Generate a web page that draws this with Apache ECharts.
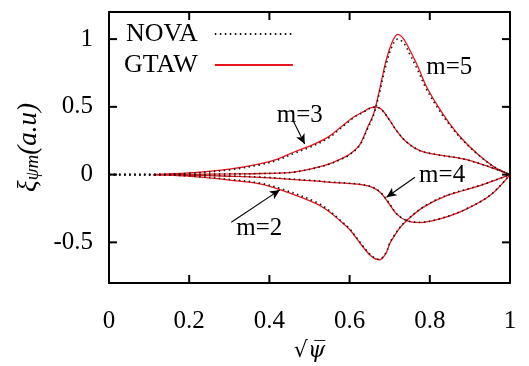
<!DOCTYPE html>
<html>
<head>
<meta charset="utf-8">
<script src="https://cdn.jsdelivr.net/npm/echarts@6/dist/echarts.min.js"></script>
<style>
  html, body { margin: 0; padding: 0; background: #fff; }
  #main { width: 529px; height: 366px; }
</style>
</head>
<body>
<div id="main"></div>
<script>
// sqrt(psi) positions and xi values
var xM5 = [0.11, 0.2, 0.3, 0.38, 0.46, 0.54, 0.58, 0.6, 0.625, 0.645, 0.66, 0.675, 0.69, 0.705, 0.72, 0.735, 0.75, 0.77, 0.79, 0.82, 0.85, 0.88, 0.92, 0.96, 1.0];
var gtawM5 = [0, 0.002, 0.005, 0.008, 0.018, 0.07, 0.118, 0.15, 0.22, 0.35, 0.45, 0.63, 0.83, 0.97, 1.035, 1.0, 0.92, 0.8, 0.66, 0.505, 0.374, 0.265, 0.15, 0.058, 0];
var novaXM5 = [0, 0.05, 0.11, 0.2, 0.3, 0.38, 0.46, 0.54, 0.58, 0.6, 0.625, 0.645, 0.66, 0.675, 0.69, 0.705, 0.72, 0.735, 0.75, 0.77, 0.79, 0.82, 0.85, 0.88, 0.92, 0.96, 1.0];
var novaM5 = [0, 0, 0, 0.002, 0.005, 0.008, 0.018, 0.068, 0.115, 0.147, 0.215, 0.34, 0.44, 0.61, 0.8, 0.94, 1.0, 0.97, 0.89, 0.77, 0.64, 0.49, 0.365, 0.26, 0.148, 0.057, 0];

var xM3 = [0.11, 0.2, 0.3, 0.376, 0.42, 0.46, 0.5, 0.545, 0.58, 0.61, 0.635, 0.65, 0.665, 0.68, 0.7, 0.717, 0.742, 0.775, 0.817, 0.883, 0.94, 1.0];
var gtawM3 = [0, 0.012, 0.04, 0.079, 0.115, 0.165, 0.21, 0.275, 0.355, 0.425, 0.465, 0.49, 0.5, 0.48, 0.40, 0.325, 0.24, 0.177, 0.148, 0.116, 0.066, 0];
var novaXM3 = [0, 0.05, 0.11, 0.2, 0.3, 0.376, 0.42, 0.46, 0.5, 0.545, 0.58, 0.61, 0.635, 0.65, 0.665, 0.68, 0.7, 0.717, 0.742, 0.775, 0.817, 0.883, 0.94, 1.0];
var novaM3 = [0, 0, 0, 0.01, 0.035, 0.072, 0.106, 0.155, 0.2, 0.265, 0.347, 0.42, 0.462, 0.488, 0.498, 0.478, 0.40, 0.325, 0.24, 0.177, 0.148, 0.116, 0.066, 0];

var xM4 = [0.11, 0.2, 0.3, 0.376, 0.5, 0.551, 0.6, 0.63, 0.655, 0.676, 0.696, 0.717, 0.742, 0.775, 0.825, 0.883, 0.95, 1.0];
var gtawM4 = [0, -0.005, -0.012, -0.02, -0.044, -0.057, -0.066, -0.075, -0.092, -0.13, -0.204, -0.29, -0.34, -0.354, -0.327, -0.266, -0.155, 0];
var novaXM4 = [0, 0.05, 0.11, 0.2, 0.3, 0.376, 0.5, 0.551, 0.6, 0.63, 0.655, 0.676, 0.696, 0.717, 0.742, 0.775, 0.825, 0.883, 0.95, 1.0];
var novaM4 = [0, 0, 0, -0.004, -0.01, -0.018, -0.042, -0.055, -0.064, -0.073, -0.09, -0.128, -0.2, -0.287, -0.338, -0.352, -0.325, -0.264, -0.153, 0];

var xM2 = [0.11, 0.2, 0.31, 0.376, 0.43, 0.518, 0.551, 0.576, 0.6, 0.634, 0.655, 0.674, 0.69, 0.7, 0.71, 0.726, 0.742, 0.784, 0.842, 0.925, 1.0];
var gtawM2 = [0, -0.012, -0.044, -0.069, -0.115, -0.216, -0.278, -0.34, -0.405, -0.536, -0.605, -0.63, -0.585, -0.51, -0.46, -0.39, -0.34, -0.24, -0.155, -0.081, 0];
var novaXM2 = [0, 0.05, 0.11, 0.2, 0.31, 0.376, 0.43, 0.518, 0.551, 0.576, 0.6, 0.634, 0.655, 0.674, 0.69, 0.7, 0.71, 0.726, 0.742, 0.784, 0.842, 0.925, 1.0];
var novaM2 = [0, 0, 0, -0.01, -0.038, -0.062, -0.105, -0.205, -0.27, -0.335, -0.4, -0.53, -0.6, -0.625, -0.58, -0.505, -0.455, -0.388, -0.338, -0.238, -0.153, -0.08, 0];

var xTicks = [0.2, 0.4, 0.6, 0.8];
var yTicks = [-0.5, 0, 0.5, 1];

// mode labels and their arrows
var modeNames = ['m=5', 'm=3', 'm=4', 'm=2'];
var modeLabelPos = [[0.85, 0.79], [0.477, 0.435], [0.832, -0.007], [0.376, -0.40]];
var arrowFrom = [null, [0.459, 0.40], [0.763, -0.02], [0.305, -0.352]];
var arrowTo = [null, [0.488, 0.225], [0.692, -0.167], [0.426, -0.113]];

var X_MIN = 0, X_MAX = 1, Y_MIN = -0.8, Y_MAX = 1.2;

function zip(xs, ys) {
    var out = [];
    for (var i = 0; i < xs.length; i++) out.push([xs[i], ys[i]]);
    return out;
}

var font = "'Liberation Serif', 'DejaVu Serif', serif";
var red = '#e8141c';

function gtaw(xs, ys) {
    return {
        name: 'GTAW', type: 'line', data: zip(xs, ys), smooth: 0.35,
        symbol: 'none', showSymbol: false,
        lineStyle: { color: red, width: 1.3 },
        itemStyle: { color: red }
    };
}
function nova(xs, ys) {
    return {
        name: 'NOVA', type: 'line', data: zip(xs, ys), smooth: 0.35,
        symbol: 'none', showSymbol: false,
        lineStyle: { color: '#111', width: 1.6, type: [1.5, 3.5] },
        itemStyle: { color: '#111' }
    };
}

var arrows = [];
for (var i = 0; i < modeNames.length; i++) {
    if (arrowFrom[i]) arrows.push([{ coord: arrowFrom[i] }, { coord: arrowTo[i] }]);
}

// inward tick marks (8px) on both sides of the frame, placed through the axes
var TICK = 8;
function tickLine(x1, y1, x2, y2) {
    return { type: 'line', shape: { x1: x1, y1: y1, x2: x2, y2: y2 }, style: { stroke: '#000', lineWidth: 2 } };
}
function xTickSeries() {
    return {
        type: 'custom', silent: true, z: 10, clip: false,
        data: xTicks.map(function (x) { return [x, 0]; }),
        renderItem: function (params, api) {
            var b = api.coord([api.value(0), Y_MIN]);
            var t = api.coord([api.value(0), Y_MAX]);
            return { type: 'group', children: [
                tickLine(b[0], b[1], b[0], b[1] - TICK),
                tickLine(t[0], t[1], t[0], t[1] + TICK)
            ] };
        }
    };
}
function yTickSeries() {
    return {
        type: 'custom', silent: true, z: 10, clip: false,
        data: yTicks.map(function (y) { return [0.5, y]; }),
        renderItem: function (params, api) {
            var l = api.coord([X_MIN, api.value(1)]);
            var r = api.coord([X_MAX, api.value(1)]);
            return { type: 'group', children: [
                tickLine(l[0], l[1], l[0] + TICK, l[1]),
                tickLine(r[0], r[1], r[0] - TICK, r[1])
            ] };
        }
    };
}

var myChart = echarts.init(document.getElementById('main'));
var option = {
    animation: false,
    backgroundColor: '#fff',
    grid: { left: 109, right: 19, top: 12, bottom: 83, outerBoundsMode: 'none' },
    legend: {
        data: ['NOVA', 'GTAW'],
        orient: 'vertical',
        align: 'right',
        left: 119, top: 16,
        itemWidth: 78, itemHeight: 10, itemGap: 5,
        itemStyle: { opacity: 0 },
        textStyle: { fontFamily: font, fontSize: 26, color: '#000', width: 88, align: 'right', padding: [0, 12, 0, 0] }
    },
    xAxis: [{
        type: 'value', min: X_MIN, max: X_MAX, interval: 0.2,
        name: '√ψ̅', nameLocation: 'middle', nameGap: 57,
        nameTextStyle: { fontFamily: "'DejaVu Serif', serif", fontSize: 22, fontStyle: 'italic', color: '#000' },
        axisLine: { show: true, onZero: false, lineStyle: { color: '#000', width: 2 } },
        axisTick: { show: false },
        axisLabel: { fontFamily: font, fontSize: 25, color: '#000', margin: 26 },
        splitLine: { show: false }
    }, {
        type: 'value', min: X_MIN, max: X_MAX, interval: 0.2, position: 'top',
        axisLine: { show: true, onZero: false, lineStyle: { color: '#000', width: 2 } },
        axisTick: { show: false },
        axisLabel: { show: false },
        splitLine: { show: false }
    }],
    yAxis: [{
        type: 'value', min: Y_MIN, max: Y_MAX,
        name: '{a|ξ}{s|ψm}{a|(a.u)}', nameLocation: 'middle', nameGap: 66, nameRotate: 90,
        nameTextStyle: {
            color: '#000',
            rich: {
                a: { fontFamily: font, fontSize: 27, fontStyle: 'italic', color: '#000' },
                s: { fontFamily: font, fontSize: 19, fontStyle: 'italic', color: '#000', verticalAlign: 'bottom', padding: [9, 0, 0, 0] }
            }
        },
        axisLine: { show: true, onZero: false, lineStyle: { color: '#000', width: 2 } },
        axisTick: { show: false },
        axisLabel: { fontFamily: font, fontSize: 25, color: '#000', margin: 16, customValues: yTicks },
        splitLine: { show: false }
    }, {
        type: 'value', min: Y_MIN, max: Y_MAX, position: 'right',
        axisLine: { show: true, onZero: false, lineStyle: { color: '#000', width: 2 } },
        axisTick: { show: false },
        axisLabel: { show: false },
        splitLine: { show: false }
    }],
    series: [
        gtaw(xM5, gtawM5), gtaw(xM3, gtawM3), gtaw(xM4, gtawM4), gtaw(xM2, gtawM2),
        nova(novaXM5, novaM5), nova(novaXM3, novaM3), nova(novaXM4, novaM4), nova(novaXM2, novaM2),
        {
            name: 'labels', type: 'scatter', symbolSize: 1,
            itemStyle: { color: '#000', opacity: 0 },
            data: modeLabelPos.map(function (p, i) { return { value: p, name: modeNames[i] }; }),
            label: {
                show: true, position: [0, 0], align: 'center', verticalAlign: 'middle',
                formatter: '{b}', opacity: 1,
                fontFamily: font, fontSize: 25, color: '#000'
            },
            markLine: {
                silent: true, symbol: ['none', 'arrow'], symbolSize: [7, 10],
                label: { show: false },
                lineStyle: { color: '#000', width: 1.1, type: 'solid', opacity: 1 },
                data: arrows
            }
        },
        xTickSeries(),
        yTickSeries()
    ]
};
myChart.setOption(option);
</script>
</body>
</html>
